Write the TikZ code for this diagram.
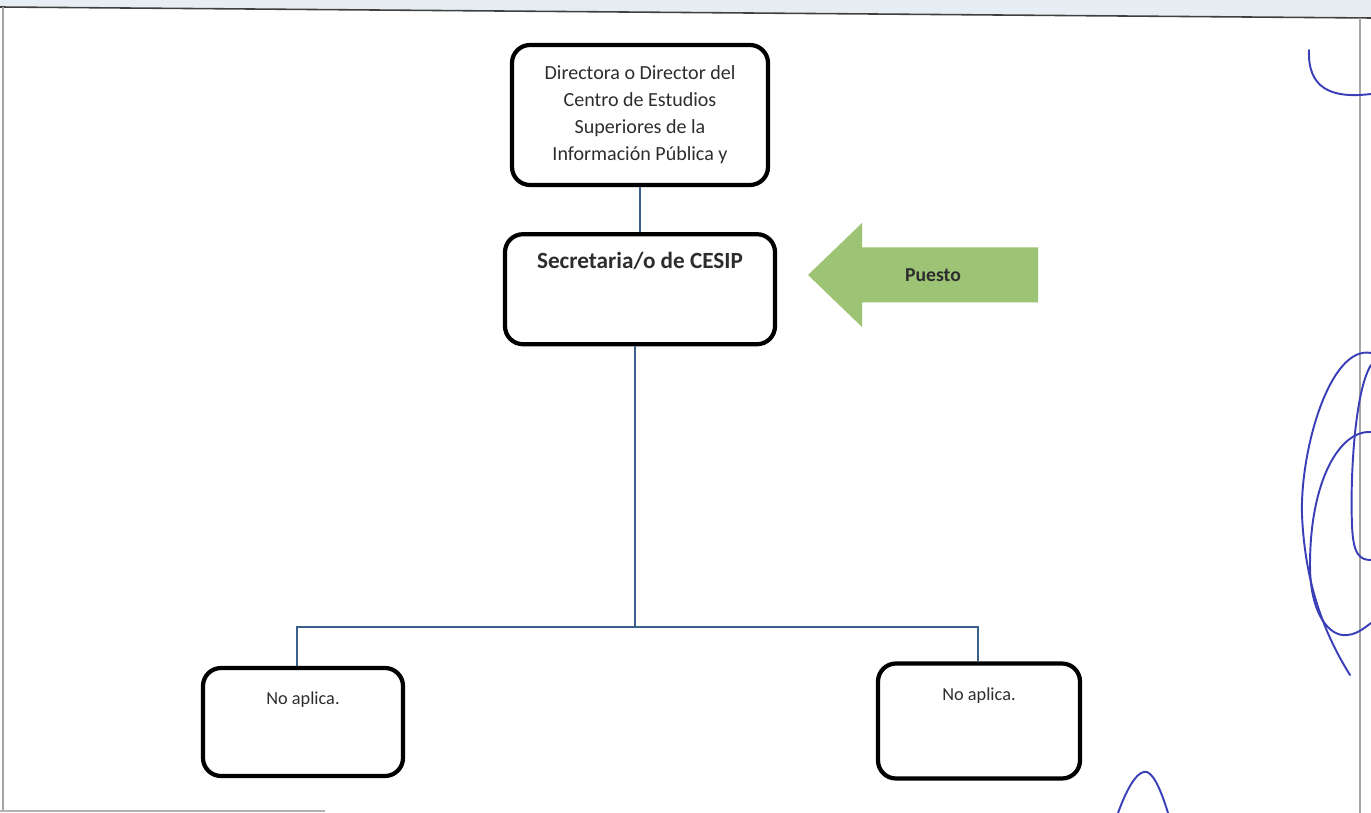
\documentclass[tikz,border=0pt]{standalone}
\usepackage{fontspec}
\setmainfont{Carlito}
\usepackage{tikz}
\usetikzlibrary{positioning}
\usepackage{xcolor}
\definecolor{orgline}  {RGB}{ 61, 95,140}
\definecolor{puestogrn}{RGB}{156,196,116}
\definecolor{penblue}  {RGB}{ 58, 63,184}
\definecolor{scanband} {RGB}{230,238,243}
\definecolor{inkgray}  {RGB}{ 45, 45, 45}

\begin{document}
\begin{tikzpicture}[
    node distance=0.9cm and 1.2cm,
    orgbox/.style={draw, rectangle, rounded corners=0.36cm, line width=2.4pt, align=center, inner sep=0pt},
    boxtext/.style={font=\fontsize{11.4}{15.4}\selectfont, text=inkgray, align=center},
    notext/.style={font=\fontsize{10.4}{12}\selectfont, text=inkgray, inner sep=0pt},
    link/.style={draw=orgline, line width=0.85pt},
    pen/.style={draw=penblue, line width=1.1pt, line cap=round}
]
    \useasboundingbox (0,0) rectangle (27.42,-16.26);

    % --- page frame of the scan ---
    \fill[scanband] (0,0) -- (27.42,0) -- (27.42,-0.36) -- (0,-0.14) -- cycle;
    \draw[gray!50!black, line width=0.9pt] (0,-0.14) -- (27.42,-0.36);
    \draw[gray!70, line width=0.7pt] (0.06,-0.14) -- (0.06,-16.22);
    \draw[gray!70, line width=0.7pt] (27.2,-0.36) -- (27.2,-16.26);
    \draw[gray!60, line width=0.9pt] (0,-16.22) -- (6.5,-16.22);

    % --- org chart boxes ---
    \node[orgbox, minimum width=5.12cm, minimum height=2.8cm, boxtext] (dir) at (12.8,-2.3)
        {Directora o Director del\\Centro de Estudios\\Superiores de la\\Información Pública y};
    \node[orgbox, minimum width=5.4cm, minimum height=2.2cm] (sec) [below=of dir] {};
    \node[font=\fontsize{13.2}{15}\selectfont\bfseries, text=inkgray, inner sep=0pt] (sec_t) [below=0.39cm of sec.north] {Secretaria/o de CESIP};
    \node[orgbox, minimum width=4.0cm, minimum height=2.16cm] (left) at (6.06,-14.44) {};
    \node[notext] (left_t) [below=0.52cm of left.north] {No aplica.};
    \node[orgbox, minimum width=4.04cm, minimum height=2.3cm] (right) at (19.58,-14.42) {};
    \node[notext] (right_t) [below=0.52cm of right.north] {No aplica.};

    % --- connectors ---
    \coordinate (bus) at ([xshift=-0.1cm]sec.south |- 0,-12.54);
    \draw[link] (dir) -- (sec);
    \draw[link] ([xshift=-0.1cm]sec.south) -- (bus);
    \draw[link] (bus) -| ([xshift=-0.12cm]left.north);
    \draw[link] (bus) -| ([xshift=-0.02cm]right.north);

    % --- Puesto marker ---
    \fill[puestogrn] (16.16,-5.5) -- (17.24,-4.46) -- (17.24,-4.95) -- (20.76,-4.95)
        -- (20.76,-6.05) -- (17.24,-6.05) -- (17.24,-6.54) -- cycle;
    \node[font=\fontsize{11.2}{13}\selectfont\bfseries, text=inkgray] (puesto) at (18.66,-5.5) {Puesto};

    % --- pen marks on the margin ---
    \draw[pen] (26.18,-1.0) .. controls (26.15,-1.75) and (26.6,-1.98) .. (27.42,-1.88);
    \draw[pen] (27.42,-7.06) .. controls (26.6,-6.9) and (26.0,-9.0) .. (26.04,-10.3)
        .. controls (26.1,-11.7) and (26.5,-12.7) .. (27.0,-13.5);
    \draw[pen] (27.42,-8.64) .. controls (26.8,-8.6) and (26.2,-9.6) .. (26.2,-11.3)
        .. controls (26.2,-12.3) and (26.6,-12.75) .. (26.95,-12.7)
        .. controls (27.15,-12.68) and (27.3,-12.55) .. (27.42,-12.46);
    \draw[pen] (27.42,-7.3) .. controls (27.1,-7.8) and (27.0,-9.5) .. (27.04,-10.5)
        .. controls (27.06,-11.1) and (27.2,-11.2) .. (27.42,-11.2);
    \draw[pen] (22.36,-16.26) .. controls (22.6,-15.6) and (22.8,-15.4) .. (22.94,-15.44)
        .. controls (23.1,-15.5) and (23.25,-15.9) .. (23.36,-16.26);

\end{tikzpicture}
\end{document}
